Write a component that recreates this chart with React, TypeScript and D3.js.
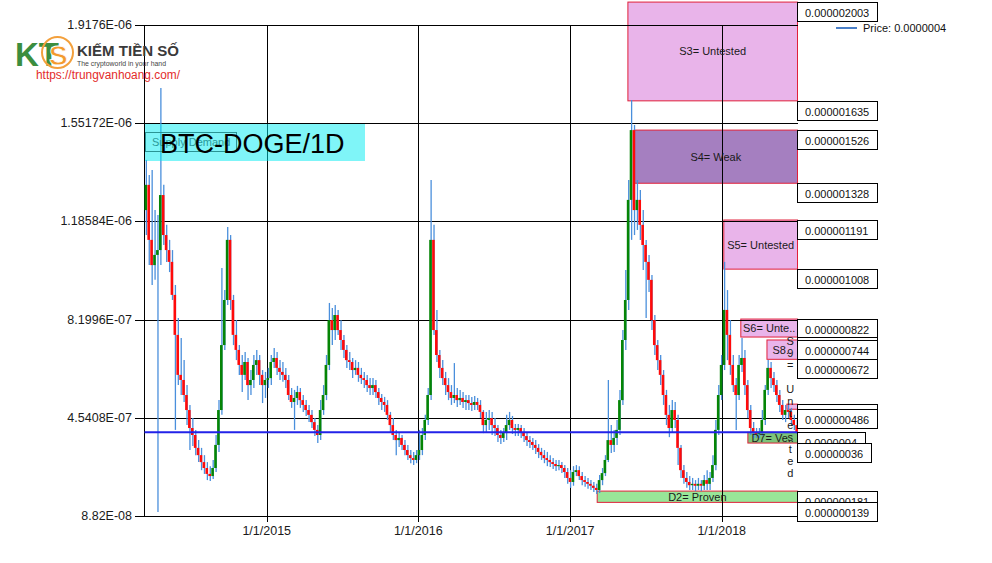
import React from "react";
import * as d3 from "d3";

// ---------- data (prices in satoshi = 1e-8 BTC), one candle per week ----------
const SAT = 1e-8;
const firstWeek = "2014-03-12";
const lastDay = "2018-07-04";

const openSat = [
  122.8, 132.2, 111.7, 102.3, 106.1, 107.9, 128.4, 113.5, 107.9, 103.5,
  91.2, 76.3, 61.4, 59.5, 53.9, 48.3, 41.6, 39.0, 34.2, 31.5,
  28.9, 26.7, 24.5, 23.7, 26.7, 35.3, 48.3, 72.5, 89.3, 111.7,
  89.3, 76.3, 70.7, 65.1, 61.4, 66.2, 57.6, 59.5, 65.1, 66.9,
  61.4, 57.6, 59.5, 60.2, 66.2, 67.7, 64.0, 62.5, 61.4, 59.5,
  53.9, 51.3, 52.8, 55.0, 52.0, 50.2, 48.3, 46.5, 43.8, 40.9,
  39.0, 48.3, 53.9, 65.1, 81.8, 78.1, 83.7, 78.1, 74.4, 70.7,
  66.9, 66.2, 63.2, 64.0, 61.4, 60.2, 59.5, 57.6, 56.5, 57.6,
  55.0, 52.8, 51.3, 50.2, 46.5, 42.7, 39.0, 37.1, 37.9, 35.3,
  33.4, 31.5, 30.4, 29.7, 31.5, 33.4, 39.0, 44.6, 53.9, 111.7,
  78.1, 68.8, 64.0, 60.2, 57.6, 55.0, 52.8, 53.9, 52.0, 52.8,
  51.3, 52.0, 50.9, 50.2, 51.3, 50.2, 47.6, 42.7, 44.6, 45.3,
  42.7, 41.6, 39.0, 37.9, 40.1, 42.7, 44.6, 41.6, 40.9, 41.6,
  40.1, 38.6, 37.1, 36.4, 35.3, 34.2, 32.7, 31.5, 30.4, 29.7,
  28.9, 28.2, 27.4, 27.8, 26.7, 25.2, 23.0, 21.5, 25.2, 25.9,
  23.7, 22.2, 21.5, 20.8, 20.1, 19.3, 18.5, 22.2, 24.8, 29.7,
  37.1, 35.3, 37.9, 40.9, 52.0, 74.4, 89.3, 126.6, 152.6, 122.8,
  126.6, 117.3, 109.8, 103.5, 96.8, 81.8, 72.5, 66.9, 61.4, 53.9,
  46.5, 41.6, 48.3, 44.6, 34.2, 25.9, 23.0, 21.5, 20.3, 20.8,
  20.1, 20.8, 20.1, 22.2, 20.8, 23.0, 27.8, 40.9, 53.9, 65.1,
  85.6, 76.3, 65.1, 57.6, 53.9, 65.1, 67.7, 57.6, 48.3, 41.6,
  40.1, 39.4, 39.7, 44.6, 55.8, 64.0, 60.2, 57.6, 53.9, 50.2,
  46.5, 48.3, 47.6, 44.6, 42.7,
];
const highSat = [
  141.5, 135.9, 137.7, 122.8, 121.0, 168.3, 132.2, 117.3, 111.7, 107.9,
  94.9, 82.6, 75.1, 66.9, 57.6, 50.2, 45.3, 40.9, 37.1, 34.2,
  31.5, 28.9, 27.4, 29.7, 39.0, 52.0, 101.2, 93.0, 116.5, 113.5,
  91.2, 81.8, 72.5, 68.8, 69.9, 67.7, 63.2, 68.8, 70.7, 68.8,
  63.2, 62.5, 64.0, 68.8, 71.4, 69.9, 66.9, 66.2, 64.0, 61.4,
  56.5, 55.8, 57.3, 56.5, 53.9, 52.0, 50.2, 48.3, 45.3, 42.7,
  52.0, 57.6, 68.8, 88.2, 86.3, 87.4, 85.6, 81.8, 76.3, 72.5,
  69.9, 67.7, 66.9, 66.2, 64.0, 62.5, 61.4, 60.2, 60.2, 59.5,
  56.5, 54.3, 53.2, 52.0, 47.6, 45.3, 40.9, 40.1, 39.0, 37.1,
  35.3, 33.4, 32.7, 33.4, 40.9, 41.6, 46.5, 56.5, 134.0, 117.3,
  85.6, 70.7, 66.9, 62.5, 60.2, 57.6, 65.8, 56.5, 55.8, 55.0,
  53.9, 53.9, 53.2, 53.5, 52.8, 52.0, 48.3, 47.6, 48.3, 47.6,
  45.3, 42.7, 40.9, 41.6, 46.5, 47.6, 46.1, 43.1, 43.1, 42.7,
  41.6, 40.1, 38.6, 37.9, 37.1, 35.6, 34.2, 33.4, 32.7, 31.5,
  30.4, 29.7, 29.7, 28.9, 27.8, 26.7, 25.9, 27.4, 27.8, 27.4,
  25.2, 23.7, 23.0, 22.2, 21.5, 20.8, 24.1, 26.7, 31.5, 59.5,
  42.7, 40.9, 44.6, 55.8, 78.1, 100.5, 134.0, 163.8, 154.5, 134.0,
  130.3, 122.8, 111.7, 106.1, 98.6, 83.7, 74.4, 68.8, 63.2, 55.8,
  50.2, 52.0, 51.3, 46.5, 35.3, 27.8, 25.2, 23.7, 23.0, 22.2,
  23.0, 22.2, 24.1, 25.9, 25.2, 31.5, 44.6, 57.6, 68.8, 103.5,
  93.0, 81.8, 68.8, 60.2, 68.8, 75.1, 70.7, 59.5, 50.2, 43.8,
  41.6, 41.6, 48.3, 57.6, 66.9, 66.2, 62.5, 59.5, 55.8, 52.0,
  50.2, 50.2, 49.1, 46.5, 44.6,
];
const lowSat = [
  113.5, 102.3, 94.9, 96.8, 10.3, 102.3, 109.8, 103.5, 99.7, 89.3,
  40.9, 57.6, 53.9, 51.3, 42.7, 33.4, 34.9, 31.5, 28.9, 25.9,
  24.5, 22.2, 21.9, 22.6, 25.2, 32.7, 46.5, 70.7, 87.4, 85.6,
  72.5, 66.9, 61.4, 55.0, 59.5, 52.0, 53.9, 56.5, 61.4, 57.6,
  50.9, 52.8, 56.5, 57.6, 64.0, 61.4, 59.5, 58.8, 56.5, 52.0,
  49.1, 40.9, 50.2, 49.1, 47.6, 46.1, 43.8, 41.6, 38.6, 36.0,
  37.1, 46.5, 52.0, 63.2, 72.5, 74.4, 76.3, 70.7, 67.7, 64.0,
  63.2, 60.2, 61.4, 58.8, 58.0, 56.5, 55.0, 53.9, 53.9, 52.8,
  50.2, 48.3, 47.6, 44.6, 40.1, 37.1, 31.5, 34.5, 33.4, 31.5,
  29.7, 28.5, 27.8, 28.5, 29.7, 31.5, 37.1, 42.7, 52.0, 76.3,
  66.2, 60.2, 57.6, 53.9, 52.0, 50.2, 50.9, 49.4, 50.2, 49.1,
  48.3, 48.3, 47.9, 48.3, 48.3, 45.3, 39.7, 40.1, 40.9, 39.0,
  38.6, 36.4, 35.6, 36.4, 37.1, 40.9, 39.4, 38.6, 38.6, 37.9,
  36.4, 34.9, 34.2, 33.4, 31.9, 30.4, 29.7, 28.5, 27.4, 27.1,
  26.3, 25.6, 25.9, 24.8, 23.0, 20.8, 19.3, 20.1, 23.7, 22.2,
  20.3, 19.7, 19.0, 18.5, 17.8, 17.0, 17.4, 20.3, 23.7, 28.9,
  32.3, 32.7, 35.3, 39.0, 50.2, 70.7, 85.6, 111.7, 113.5, 115.4,
  111.7, 100.5, 82.6, 92.3, 78.1, 68.8, 63.2, 57.6, 50.2, 42.7,
  38.2, 40.1, 41.6, 27.8, 23.0, 20.8, 19.3, 18.5, 18.5, 18.1,
  18.5, 18.1, 18.5, 18.5, 18.5, 21.5, 25.9, 39.0, 52.0, 63.2,
  66.9, 61.4, 55.0, 40.9, 52.0, 62.5, 53.9, 45.3, 39.0, 37.9,
  37.9, 37.9, 38.6, 42.7, 53.9, 56.5, 55.0, 51.3, 47.6, 44.6,
  43.8, 45.3, 42.4, 40.9, 39.4,
];
const closeSat = [
  132.2, 111.7, 102.3, 106.1, 107.9, 128.4, 113.5, 107.9, 103.5, 91.2,
  76.3, 61.4, 59.5, 53.9, 48.3, 41.6, 39.0, 34.2, 31.5, 28.9,
  26.7, 24.5, 23.7, 26.7, 35.3, 48.3, 72.5, 89.3, 111.7, 89.3,
  76.3, 70.7, 65.1, 61.4, 66.2, 57.6, 59.5, 65.1, 66.9, 61.4,
  57.6, 59.5, 60.2, 66.2, 67.7, 64.0, 62.5, 61.4, 59.5, 53.9,
  51.3, 52.8, 55.0, 52.0, 50.2, 48.3, 46.5, 43.8, 40.9, 39.0,
  48.3, 53.9, 65.1, 81.8, 78.1, 83.7, 78.1, 74.4, 70.7, 66.9,
  66.2, 63.2, 64.0, 61.4, 60.2, 59.5, 57.6, 56.5, 57.6, 55.0,
  52.8, 51.3, 50.2, 46.5, 42.7, 39.0, 37.1, 37.9, 35.3, 33.4,
  31.5, 30.4, 29.7, 31.5, 33.4, 39.0, 44.6, 53.9, 111.7, 78.1,
  68.8, 64.0, 60.2, 57.6, 55.0, 52.8, 53.9, 52.0, 52.8, 51.3,
  52.0, 50.9, 50.2, 51.3, 50.2, 47.6, 42.7, 44.6, 45.3, 42.7,
  41.6, 39.0, 37.9, 40.1, 42.7, 44.6, 41.6, 40.9, 41.6, 40.1,
  38.6, 37.1, 36.4, 35.3, 34.2, 32.7, 31.5, 30.4, 29.7, 28.9,
  28.2, 27.4, 27.8, 26.7, 25.2, 23.0, 21.5, 25.2, 25.9, 23.7,
  22.2, 21.5, 20.8, 20.1, 19.3, 18.5, 22.2, 24.8, 29.7, 37.1,
  35.3, 37.9, 40.9, 52.0, 74.4, 89.3, 126.6, 152.6, 122.8, 126.6,
  117.3, 109.8, 103.5, 96.8, 81.8, 72.5, 66.9, 61.4, 53.9, 46.5,
  41.6, 48.3, 44.6, 34.2, 25.9, 23.0, 21.5, 20.3, 20.8, 20.1,
  20.8, 20.1, 22.2, 20.8, 23.0, 27.8, 40.9, 53.9, 65.1, 85.6,
  76.3, 65.1, 57.6, 53.9, 65.1, 67.7, 57.6, 48.3, 41.6, 40.1,
  39.4, 39.7, 44.6, 55.8, 64.0, 60.2, 57.6, 53.9, 50.2, 46.5,
  48.3, 47.6, 44.6, 42.7, 40.0,
];

const lastPrice = 4e-7;

const yTickValues = [8.82e-8, 4.5408e-7, 8.1996e-7, 1.18584e-6, 1.55172e-6, 1.9176e-6];
const yTickLabels = ["8.82E-08", "4.5408E-07", "8.1996E-07", "1.18584E-06", "1.55172E-06", "1.9176E-06"];
const xTickDates = ["2015-01-01", "2016-01-01", "2017-01-01", "2018-01-01"];
const xTickLabels = ["1/1/2015", "1/1/2016", "1/1/2017", "1/1/2018"];

const zoneNames = ["S3= Untested", "S4= Weak", "S5= Untested", "S6= Unte..", "S8..", "S9= Untested", "D7= Ve..", "D2= Proven"];
const zoneStart = ["2017-05-20", "2017-06-04", "2018-01-06", "2018-02-16", "2018-04-20", "2018-06-07", "2018-03-05", "2017-03-07"];
const zoneTop = [2.003e-6, 1.526e-6, 1.191e-6, 8.22e-7, 7.44e-7, 5.05e-7, 4.0e-7, 1.81e-7];
const zoneBottom = [1.635e-6, 1.328e-6, 1.008e-6, 7.55e-7, 6.72e-7, 4.86e-7, 3.6e-7, 1.39e-7];
const zoneKind = ["untested", "weak", "untested", "untested", "untested", "untested", "verystrong", "proven"];

// ---------- styles ----------
const FONT = "'Liberation Sans', Arial, sans-serif";
const zoneFill: Record<string, string> = {
  untested: "#e9b4ea",
  weak: "#a57fc0",
  verystrong: "#7cc47a",
  proven: "#98e698",
};
const WICK = "#4a8fdc";
const UP = "#058505";
const DOWN = "#ff0a0a";

const PLOT_L = 144.5;
const PLOT_R = 797.5;

function fmtPrice(v: number) {
  let s = v.toFixed(9);
  s = s.replace(/0+$/, "");
  return s;
}
function labelWidth(s: string) {
  let w = 0;
  for (const ch of s) w += ch === "." ? 3.06 : 6.12;
  return w + 16;
}

export default function App() {
  const x = d3
    .scaleUtc()
    .domain([new Date(firstWeek), new Date(lastDay)])
    .range([144.3, 798.1]);
  const y = d3.scaleLinear().domain([8.82e-8, 1.9176e-6]).range([516, 25]);

  const t0 = new Date(firstWeek).getTime();
  const day = 864e5;
  const candles = closeSat.map((c, i) => ({
    date: new Date(t0 + (7 * i + 3.5) * day),
    o: openSat[i] * SAT,
    h: highSat[i] * SAT,
    l: lowSat[i] * SAT,
    c: c * SAT,
  }));

  const bodyW = 2.6;

  const zones = zoneNames.map((name, i) => {
    const x0 = x(new Date(zoneStart[i]));
    const y0 = y(zoneTop[i]);
    const y1 = y(zoneBottom[i]);
    return { name, x0, y0, y1, kind: zoneKind[i], top: zoneTop[i], bottom: zoneBottom[i] };
  });

  return (
    <svg
      width={992}
      height={563}
      style={{ position: "absolute", left: 0, top: 0, background: "#fff" }}
      fontFamily={FONT}
    >
      <rect x={0} y={0} width={992} height={563} fill="#fff" />

      {/* zones */}
      {zones.map((z, i) => (
        <rect
          key={"z" + i}
          x={z.x0}
          y={z.y0}
          width={PLOT_R - z.x0}
          height={z.y1 - z.y0}
          fill={zoneFill[z.kind]}
          stroke="#e0203a"
          strokeWidth={1}
        />
      ))}

      {/* grid + axes */}
      <g shapeRendering="crispEdges" stroke="#000" strokeWidth={1}>
        {yTickValues.map((v, i) => (
          <line key={"gy" + i} x1={135} x2={PLOT_R} y1={Math.round(y(v)) + 0.5} y2={Math.round(y(v)) + 0.5} />
        ))}
        {xTickDates.map((d, i) => {
          const xx = Math.round(x(new Date(d))) + 0.5;
          return <line key={"gx" + i} x1={xx} x2={xx} y1={y(yTickValues[5])} y2={522} />;
        })}
        <line x1={PLOT_L} x2={PLOT_L} y1={y(yTickValues[5])} y2={516.5} />
      </g>

      {/* candles */}
      <g>
        {candles.map((d, i) => {
          const cx = x(d.date);
          const up = d.c >= d.o;
          const top = y(Math.max(d.o, d.c));
          const bot = y(Math.min(d.o, d.c));
          return (
            <g key={"c" + i}>
              <line x1={cx + 0.6} x2={cx + 0.6} y1={y(d.h)} y2={y(d.l)} stroke={WICK} strokeWidth={1.3} />
              <rect
                x={cx - bodyW / 2}
                y={top}
                width={bodyW}
                height={Math.max(1, bot - top)}
                fill={up ? UP : DOWN}
              />
            </g>
          );
        })}
      </g>

      {/* current price line */}
      <line x1={PLOT_L} x2={PLOT_R} y1={y(lastPrice)} y2={y(lastPrice)} stroke="#2222e8" strokeWidth={2} />

      {/* zone labels */}
      {zones.map((z, i) => {
        const w = PLOT_R - z.x0;
        const cx = (z.x0 + PLOT_R) / 2;
        const cy = (z.y0 + z.y1) / 2;
        if (w < 15) {
          const chars = Array.from(z.name);
          const lh = 12;
          return (
            <g key={"zl" + i}>
              {chars.map((ch, k) => (
                <text
                  key={k}
                  x={cx - 2}
                  y={cy + (k - (chars.length - 1) / 2) * lh}
                  fontSize={11}
                  textAnchor="middle"
                  dominantBaseline="central"
                  fill="#1a1a1a"
                >
                  {ch}
                </text>
              ))}
            </g>
          );
        }
        return (
          <text
            key={"zl" + i}
            x={cx}
            y={cy}
            fontSize={11}
            textAnchor="middle"
            dominantBaseline="central"
            fill="#1a1a1a"
          >
            {z.name}
          </text>
        );
      })}

      {/* price boxes on the right */}
      {zones.map((z, i) => (
        <g key={"pb" + i}>
          {[z.top, z.bottom].map((v, k) => {
            const s = fmtPrice(v);
            const yy = Math.round(y(v)) + 0.5;
            return (
              <g key={k}>
                <rect
                  x={797.5}
                  y={yy}
                  width={labelWidth(s)}
                  height={19}
                  fill="#fff"
                  stroke="#000"
                  strokeWidth={1}
                  shapeRendering="crispEdges"
                />
                <text x={805} y={yy + 14} fontSize={11} fill="#111">
                  {s}
                </text>
              </g>
            );
          })}
        </g>
      ))}

      {/* axis labels */}
      {yTickValues.map((v, i) => (
        <text
          key={"yl" + i}
          x={132}
          y={y(v)}
          fontSize={12.5}
          textAnchor="end"
          dominantBaseline="central"
          fill="#1a1a1a"
        >
          {yTickLabels[i]}
        </text>
      ))}
      {xTickDates.map((d, i) => (
        <text key={"xl" + i} x={x(new Date(d))} y={535} fontSize={12.5} textAnchor="middle" fill="#1a1a1a">
          {xTickLabels[i]}
        </text>
      ))}

      {/* legend */}
      <line x1={836} x2={857} y1={28} y2={28} stroke="#4a7fc8" strokeWidth={2} />
      <text x={863} y={32} fontSize={11} fill="#111">
        {"Price: " + fmtPrice(lastPrice)}
      </text>

      {/* title box */}
      <rect x={145} y={124} width={220} height={37} fill="#00ecf2" fillOpacity={0.5} />
      <rect x={145.5} y={132.5} width={91} height={19} fill="none" stroke="#2a9494" strokeWidth={1} />
      <text x={152} y={146} fontSize={11} fill="#2a9a9a">
        Supply Demand
      </text>
      <text x={160} y={153} fontSize={27} fill="#000">
        BTC-DOGE/1D
      </text>

      {/* logo */}
      <g>
        <text x={15} y={66} fontSize={33} fontWeight={700} fill="#3b8e3f" textLength={44} lengthAdjust="spacingAndGlyphs">
          KT
        </text>
        <circle cx={57.5} cy={52.5} r={15.5} fill="none" stroke="#f3a03c" strokeWidth={2} />
        <text x={49} y={65} fontSize={28} fontWeight={700} fill="#f39a2e" stroke="#fff" strokeWidth={0.8}>
          S
        </text>
        <text x={77} y={56} fontSize={15} fontWeight={700} fill="#3a3a3a" textLength={102} lengthAdjust="spacingAndGlyphs">
          KIẾM TIỀN SỐ
        </text>
        <text x={77} y={66} fontSize={6.5} fill="#444" textLength={89} lengthAdjust="spacingAndGlyphs">
          The cryptoworld in your hand
        </text>
        <text x={36} y={79} fontSize={12} fill="#e32b2b" textLength={144} lengthAdjust="spacingAndGlyphs">
          https://trungvanhoang.com/
        </text>
      </g>
    </svg>
  );
}
